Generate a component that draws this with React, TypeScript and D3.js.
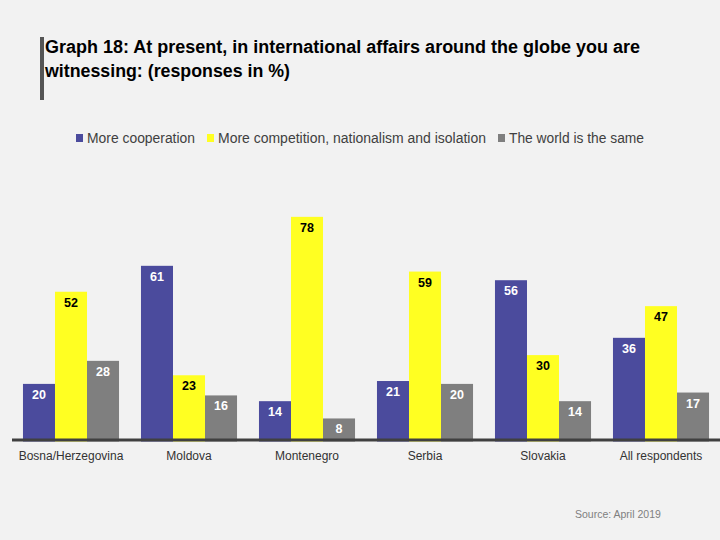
import React from "react";
import * as d3 from "d3";

const categories = ["Bosna/Herzegovina", "Moldova", "Montenegro", "Serbia", "Slovakia", "All respondents"];
const seriesNames = ["More cooperation", "More competition, nationalism and isolation", "The world is the same"];
const cooperation = [20, 61, 14, 21, 56, 36];
const competition = [52, 23, 78, 59, 30, 47];
const same = [28, 16, 8, 20, 14, 17];
const seriesColors = ["#4b4b9d", "#ffff22", "#7f7f7f"];
const labelColors = ["#ffffff", "#000000", "#ffffff"];
const titleLines = ["Graph 18: At present, in international affairs around the globe you are", "witnessing: (responses in %)"];
const sourceText = "Source: April 2019";

export default function App() {
  const W = 720, H = 540;
  const series = [cooperation, competition, same];
  const x0 = d3.scaleBand<string>().domain(categories).range([12, 720]).paddingInner(0.186).paddingOuter(0.093);
  const x1 = d3.scaleBand<number>().domain([0, 1, 2]).range([0, x0.bandwidth()]).padding(0);
  const y = d3.scaleLinear().domain([0, 100]).range([441.5, 153.5]);
  const legendX = [76, 207, 498];
  const legendLen = [108, 268, 135];
  const titleLen = [595, 245];

  return (
    <svg width={W} height={H} style={{ position: "absolute", left: 0, top: 0, background: "#f2f2f2", fontFamily: "'Liberation Sans', Arial, sans-serif" }}>
      <rect x={0} y={0} width={W} height={H} fill="#f2f2f2" />
      <rect x={40} y={37} width={4} height={63} fill="#555555" />
      {titleLines.map((t, i) => (
        <text key={i} x={45} y={53 + i * 24} fontSize={17.5} fontWeight="bold" fill="#000" textLength={titleLen[i]} lengthAdjust="spacingAndGlyphs">{t}</text>
      ))}
      {seriesNames.map((s, i) => (
        <g key={s}>
          <rect x={legendX[i]} y={134} width={7} height={8} fill={seriesColors[i]} />
          <text x={legendX[i] + 11} y={143} fontSize={14} fill="#404040" textLength={legendLen[i]} lengthAdjust="spacingAndGlyphs">{s}</text>
        </g>
      ))}
      {categories.map((c, ci) => (
        <g key={c} transform={`translate(${x0(c)},0)`}>
          {series.map((vals, si) => {
            const v = vals[ci];
            const bx = x1(si)!;
            const bw = x1.bandwidth();
            return (
              <g key={si}>
                <rect x={bx} y={y(v)} width={bw} height={y(0) - y(v)} fill={seriesColors[si]} />
                <text x={bx + bw / 2} y={y(v) + 15} textAnchor="middle" fontSize={12.5} fontWeight="bold" fill={labelColors[si]}>{v}</text>
              </g>
            );
          })}
          <text x={x0.bandwidth() / 2} y={460} textAnchor="middle" fontSize={12} fill="#333">{c}</text>
        </g>
      ))}
      <line x1={12} x2={720} y1={440} y2={440} stroke="#404040" strokeWidth={3} />
      <text x={575} y={518} fontSize={10.5} fill="#808080">{sourceText}</text>
    </svg>
  );
}
